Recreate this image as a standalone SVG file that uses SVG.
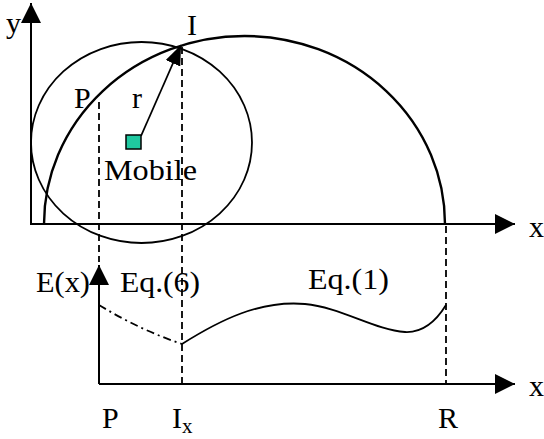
<svg xmlns="http://www.w3.org/2000/svg" width="544" height="439" viewBox="0 0 544 439">
<style>
.t{font-family:"Liberation Serif","Times New Roman",serif;font-size:30px;fill:#000}
.ax{stroke:#000;stroke-width:2;fill:none}
.dash{stroke:#000;stroke-width:1.8;fill:none;stroke-dasharray:7,4}
.cur{stroke:#000;stroke-width:1.8;fill:none}
</style>
<defs>
<marker id="ah" markerWidth="20" markerHeight="20" refX="20" refY="10" orient="auto" markerUnits="userSpaceOnUse" viewBox="0 0 20 20">
<path d="M0,0 L20,10 L0,20 Z" fill="#000"/>
</marker>
<marker id="ah2" markerWidth="20" markerHeight="16" refX="20" refY="8" orient="auto" markerUnits="userSpaceOnUse" viewBox="0 0 20 16">
<path d="M0,0 L20,8 L0,16 Z" fill="#000"/>
</marker>
</defs>
<g id="connectors">
<line class="ax" x1="31" y1="224" x2="31" y2="3" marker-end="url(#ah)"/>
<line class="ax" x1="30" y1="224" x2="515" y2="224" marker-end="url(#ah)"/>
<line class="ax" x1="99" y1="384" x2="99" y2="265" marker-end="url(#ah)"/>
<line class="ax" x1="99" y1="384" x2="515" y2="384" marker-end="url(#ah)"/>
<line class="dash" x1="99" y1="102" x2="99" y2="262"/>
<line class="dash" x1="182" y1="47" x2="182" y2="384"/>
<line class="dash" x1="446" y1="226" x2="446" y2="384"/>
<line class="cur" x1="141" y1="136" x2="181" y2="45" marker-end="url(#ah2)"/>
</g>
<g id="circle">
<ellipse cx="141.5" cy="142.5" rx="110.5" ry="100.5" class="cur"/>
</g>
<g id="arc">
<path d="M44,224 A200.5,188 0 0 1 445,224" stroke="#000" stroke-width="2.4" fill="none"/>
</g>
<g id="mobile">
<rect x="126" y="135" width="15" height="14" fill="#1fc8a0" stroke="#000" stroke-width="1.5"/>
<text class="t" x="104" y="180" textLength="93" lengthAdjust="spacingAndGlyphs">Mobile</text>
</g>
<g id="energy-curve">
<path d="M99,305 Q140,330 182,344" stroke="#000" stroke-width="1.8" fill="none" stroke-dasharray="8,4,2,4"/>
<path class="cur" d="M182,344 C220,320 260,300 305,304 C340,307 375,330 405,332 C425,333 438,318 446,305"/>
</g>
<g id="labels">
<text class="t" x="6" y="33">y</text>
<text class="t" x="187" y="35">I</text>
<text class="t" x="74" y="108">P</text>
<text class="t" x="132" y="108">r</text>
<text class="t" x="529" y="237">x</text>
<text class="t" x="36" y="292" textLength="54" lengthAdjust="spacingAndGlyphs">E(x)</text>
<text class="t" x="120" y="292" textLength="80" lengthAdjust="spacingAndGlyphs">Eq.(6)</text>
<text class="t" x="308" y="289" textLength="81" lengthAdjust="spacingAndGlyphs">Eq.(1)</text>
<text class="t" x="529" y="396">x</text>
<text class="t" x="102" y="428">P</text>
<text class="t" x="172" y="428">I<tspan font-size="21" dy="5">x</tspan></text>
<text class="t" x="438" y="428">R</text>
</g>
</svg>
